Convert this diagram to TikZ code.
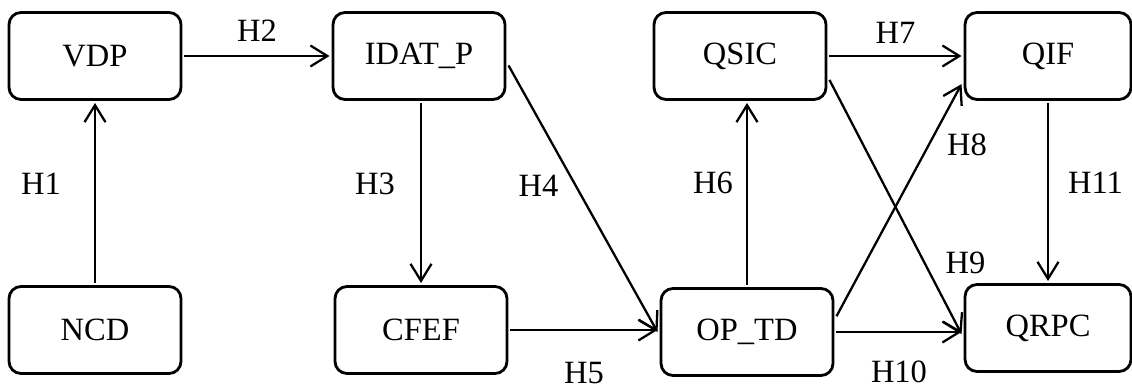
\documentclass[tikz,border=0pt]{standalone}
\usepackage{fontspec}
\setmainfont{Liberation Serif}
\usetikzlibrary{arrows.meta}

\begin{document}
\begin{tikzpicture}[x=0.02cm, y=-0.02cm, line width=1.3pt,
    >={Straight Barb[length=0.34cm, width=0.42cm]},
    box/.style={draw, rounded corners=0.24cm, line width=1.6pt, minimum width=3.44cm, minimum height=1.74cm, outer sep=0.07cm, font=\fontsize{18.5}{20}\selectfont},
    lab/.style={inner sep=0pt, font=\fontsize{18.5}{20}\selectfont}]
\useasboundingbox (0,0) rectangle (1132,391);

\node[box] (VDP) at (95, 56) {VDP};
\node[box] (IDAT_P) at (419, 56) {IDAT\_P};
\node[box] (QSIC) at (740, 56) {QSIC};
\node[box, minimum width=3.32cm] (QIF) at (1048, 56) {QIF};
\node[box] (NCD) at (95, 330) {NCD};
\node[box] (CFEF) at (421, 330) {CFEF};
\node[box] (OP_TD) at (747, 332) {OP\_TD};
\node[box, minimum width=3.32cm] (QRPC) at (1048, 328) {QRPC};

\draw[->] (NCD) -- (VDP) node[lab, pos=0.55, left=0.66cm] {H1};
\draw[->] (VDP) -- (IDAT_P) node[lab, midway, above=0.26cm] {H2};
\draw[->] (IDAT_P.south -| CFEF.north) -- (CFEF) node[lab, pos=0.45, left=0.5cm] {H3};
\draw[->] (IDAT_P.-6) -- (OP_TD.west) node[lab, pos=0.45, left=0.32cm] {H4};
\draw[->] (CFEF) -- (CFEF -| OP_TD.west) node[lab, midway, below=0.62cm] {H5};
\draw[->] (OP_TD.north) -- (OP_TD.north |- QSIC.south) node[lab, pos=0.56, left=0.26cm] {H6};
\draw[->] (QSIC) -- (QIF) node[lab, midway, above=0.22cm] {H7};
\draw[->] (OP_TD.10) -- (QIF.198) node[lab, pos=0.74, right=0.34cm] {H8};
\draw[->] (QSIC.-15) -- (QRPC.184) node[lab, pos=0.72, right=0.4cm] {H9};
\draw[->] (OP_TD) -- (OP_TD -| QRPC.west) node[lab, midway, below=0.56cm] {H10};
\draw[->] (QIF) -- (QRPC) node[lab, pos=0.45, right=0.38cm] {H11};
\end{tikzpicture}
\end{document}
